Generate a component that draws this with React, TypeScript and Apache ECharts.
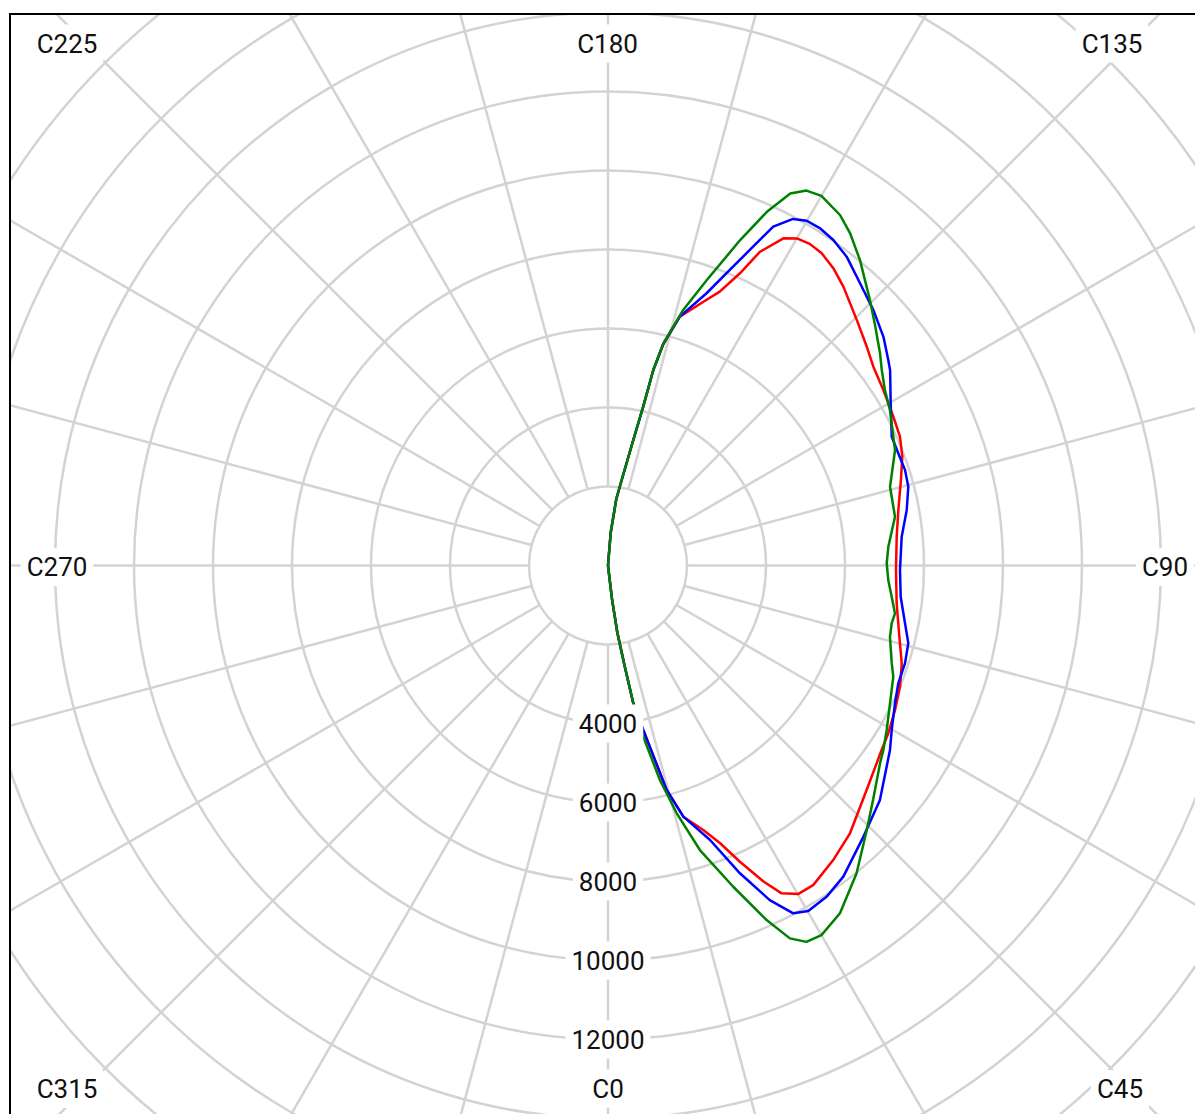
import React, { useEffect, useRef } from "react";
import * as echarts from "echarts";

// C-plane angle labels (drawn at the frame edges)
const angleLabels = ["C0", "C45", "C90", "C135", "C180", "C225", "C270", "C315"];
// radial tick labels shown on the C0 ray
const radialTickLabels = [4000, 6000, 8000, 10000, 12000];

// [C-plane angle (deg), intensity]
const redSeries: [number, number][] = [
  [0, 0], [6.8, 850], [7.9, 1705], [9.4, 2580], [10.4, 3547], [12.1, 4259], [14.65, 5874], [16.7, 6639],
  [19.8, 7118], [22.0, 7583], [24.0, 8210], [26.2, 8918], [27.9, 9392], [30.1, 9611], [32.7, 9615],
  [37.4, 9387], [42.1, 9138], [49.0, 8672], [56.0, 8355], [59.1, 8271], [63.3, 8135], [67.5, 8004],
  [71.6, 7837], [76.3, 7592], [82.5, 7371], [89.1, 7292], [95.7, 7345], [100.8, 7483], [106.3, 7727],
  [110.3, 7944], [113.8, 8079], [117.5, 8146], [122.5, 8265], [126.8, 8393], [130.2, 8578], [134.6, 8848],
  [139.8, 9236], [142.8, 9442], [145.6, 9578], [147.9, 9612], [150.0, 9562], [151.8, 9398], [154.15, 8827],
  [155.7, 8117], [157.8, 7489], [160.1, 7101], [163.9, 6557], [166.0, 5760], [166.95, 5081], [167.5, 4118],
  [168.6, 3241], [170.9, 2192], [172.9, 1690], [175.3, 830], [180, 0],
];

const blueSeries: [number, number][] = [
  [0, 0], [6.8, 850], [7.9, 1705], [9.4, 2580], [10.4, 3547], [12.1, 4259], [14.65, 5874], [16.7, 6639],
  [20.4, 7414], [23.2, 8478], [25.8, 9409], [28.05, 9977], [30.1, 10111], [33.4, 10048], [37.1, 9877],
  [43.3, 9430], [49.2, 9092], [56.8, 8532], [59.9, 8302], [64.35, 8060], [67.9, 7931], [71.8, 7916],
  [75.5, 7853], [79.0, 7660], [83.9, 7452], [89.1, 7393], [95.6, 7471], [100.5, 7691], [104.7, 7860],
  [107.8, 7899], [111.1, 7879], [114.4, 7888], [119.9, 8255], [124.7, 8687], [126.25, 8799], [129.7, 9063],
  [133.9, 9325], [138.2, 9578], [142.3, 9881], [145.3, 10022], [147.8, 10084], [150.05, 10074],
  [151.9, 9947], [154.0, 9544], [155.8, 8759], [157.6, 8093], [160.1, 7330], [163.9, 6557], [166.0, 5780],
  [166.95, 5081], [167.5, 4118], [168.6, 3241], [170.9, 2192], [172.9, 1690], [175.3, 830], [180, 0],
];

const greenSeries: [number, number][] = [
  [0, 0], [6.8, 850], [7.9, 1705], [9.4, 2580], [10.4, 3547], [11.65, 4425], [13.6, 5588], [15.5, 6510],
  [17.9, 7570], [21.3, 8729], [24.1, 9833], [26.0, 10503], [27.8, 10771], [30.0, 10806], [33.7, 10584],
  [38.9, 10018], [44.4, 9366], [48.5, 8959], [54.0, 8514], [56.2, 8390], [59.45, 8193], [63.96, 7946],
  [68.7, 7752], [71.0, 7597], [75.8, 7363], [78.5, 7330], [80.5, 7366], [83.7, 7226], [87.0, 7106],
  [90.45, 7056], [93.8, 7112], [99.65, 7370], [105.6, 7413], [111.9, 7832], [118.9, 8152], [122.4, 8301],
  [125.5, 8515], [128.0, 8738], [132.0, 9097], [135.4, 9443], [140.5, 10026], [143.9, 10405], [146.5, 10641],
  [150.0, 10806], [152.1, 10740], [153.9, 10489], [155.8, 9817], [157.9, 8892], [160.9, 7648], [163.6, 6743],
  [166.0, 5797], [166.95, 5081], [167.5, 4118], [168.6, 3241], [170.9, 2192], [172.9, 1690], [175.3, 830],
  [180, 0],
];

// ---- layout (not data) ----
const FRAME = { left: 11, top: 15, width: 1184, height: 1099 };
const CENTER: [number, number] = [597, 550.5];
const PX_PER_UNIT = 0.0395;
const GRID_MIN = 2000;
const GRID_MAX = 18000;
const GRID_STEP = 2000;
const R_HOLE = GRID_MIN * PX_PER_UNIT;
const R_OUTER = GRID_MAX * PX_PER_UNIT;
const GRID_COLOR = "#d3d3d3";
const GRID_WIDTH = 2.5;
const CURVE_WIDTH = 2.5;
const TEXT_COLOR = "#111";
const FONT = "Roboto";
// page positions of the angle labels, in the same order as angleLabels
const angleLabelPos: [number, number][] = [
  [608, 1088.5], [1120, 1089], [1165, 567], [1112, 43.5],
  [607.5, 43.5], [67, 43.5], [57, 567], [67, 1089],
];

export default function App() {
  const ref = useRef<HTMLDivElement>(null);

  useEffect(() => {
    if (!ref.current) return;
    const chart = echarts.init(ref.current, undefined, { renderer: "svg" });
    const toPolar = (s: [number, number][]) => s.map(([a, v]) => [v, a]);
    const mkSeries = (name: string, data: [number, number][], color: string, z: number) => ({
      name,
      type: "line",
      coordinateSystem: "polar",
      polarIndex: 2,
      data: toPolar(data),
      symbol: "none",
      smooth: false,
      z,
      lineStyle: { color, width: CURVE_WIDTH },
      itemStyle: { color },
    });

    chart.setOption({
      animation: false,
      backgroundColor: "#fff",
      polar: [
        { center: CENTER, radius: [R_HOLE, R_OUTER] },
        { center: CENTER, radius: [R_HOLE, 1100] },
        { center: CENTER, radius: [0, R_OUTER] },
      ],
      angleAxis: [
        { polarIndex: 0, type: "value", min: 0, max: 360, startAngle: 270, clockwise: false, show: false },
        {
          polarIndex: 1, type: "value", min: 0, max: 360, interval: 15, startAngle: 270, clockwise: false, z: 0,
          axisLine: { show: false }, axisTick: { show: false }, axisLabel: { show: false },
          splitLine: { show: true, lineStyle: { color: GRID_COLOR, width: GRID_WIDTH } },
        },
        { polarIndex: 2, type: "value", min: 0, max: 360, startAngle: 270, clockwise: false, show: false },
      ],
      radiusAxis: [
        {
          polarIndex: 0, type: "value", min: GRID_MIN, max: GRID_MAX, interval: GRID_STEP, z: 0,
          axisLine: { show: false }, axisTick: { show: false }, axisLabel: { show: false },
          splitLine: { show: true, lineStyle: { color: GRID_COLOR, width: GRID_WIDTH } },
        },
        { polarIndex: 1, type: "value", min: 0, max: 1, show: false },
        {
          polarIndex: 2, type: "value", min: 0, max: GRID_MAX, interval: GRID_STEP, z: 10,
          axisLine: { show: false }, axisTick: { show: false }, splitLine: { show: false },
          axisLabel: {
            show: true,
            margin: 0,
            align: "center",
            verticalAlign: "middle",
            formatter: (v: number) => (radialTickLabels.includes(v) ? `{t|${v}}` : ""),
            rich: {
              t: {
                backgroundColor: "#fff",
                padding: [6, 6, 6, 6],
                fontSize: 26,
                fontFamily: FONT,
                color: TEXT_COLOR,
                lineHeight: 26,
              },
            },
          },
        },
      ],
      series: [
        mkSeries("Red", redSeries, "#ff0000", 2),
        mkSeries("Blue", blueSeries, "#0000ff", 3),
        mkSeries("Green", greenSeries, "#008000", 4),
      ],
      graphic: angleLabels.map((t, i) => ({
        type: "text",
        x: angleLabelPos[i][0] - FRAME.left,
        y: angleLabelPos[i][1] - FRAME.top,
        z: 100,
        style: {
          text: t,
          fill: TEXT_COLOR,
          font: `26px ${FONT}`,
          align: "center",
          verticalAlign: "middle",
          textAlign: "center",
          textVerticalAlign: "middle",
          backgroundColor: "#fff",
          padding: [6, 6, 6, 6],
        },
      })),
    });
    return () => chart.dispose();
  }, []);

  return (
    <div
      style={{
        position: "fixed",
        left: 0,
        top: 0,
        width: 1195,
        height: 1114,
        overflow: "hidden",
        background: "#fff",
      }}
    >
      <div style={{ position: "absolute", left: 9, top: 13, width: 1190, height: 2, background: "#000" }} />
      <div style={{ position: "absolute", left: 9, top: 13, width: 2, height: 1110, background: "#000" }} />
      <div
        ref={ref}
        style={{
          position: "absolute",
          left: FRAME.left,
          top: FRAME.top,
          width: FRAME.width,
          height: FRAME.height,
        }}
      />
    </div>
  );
}
